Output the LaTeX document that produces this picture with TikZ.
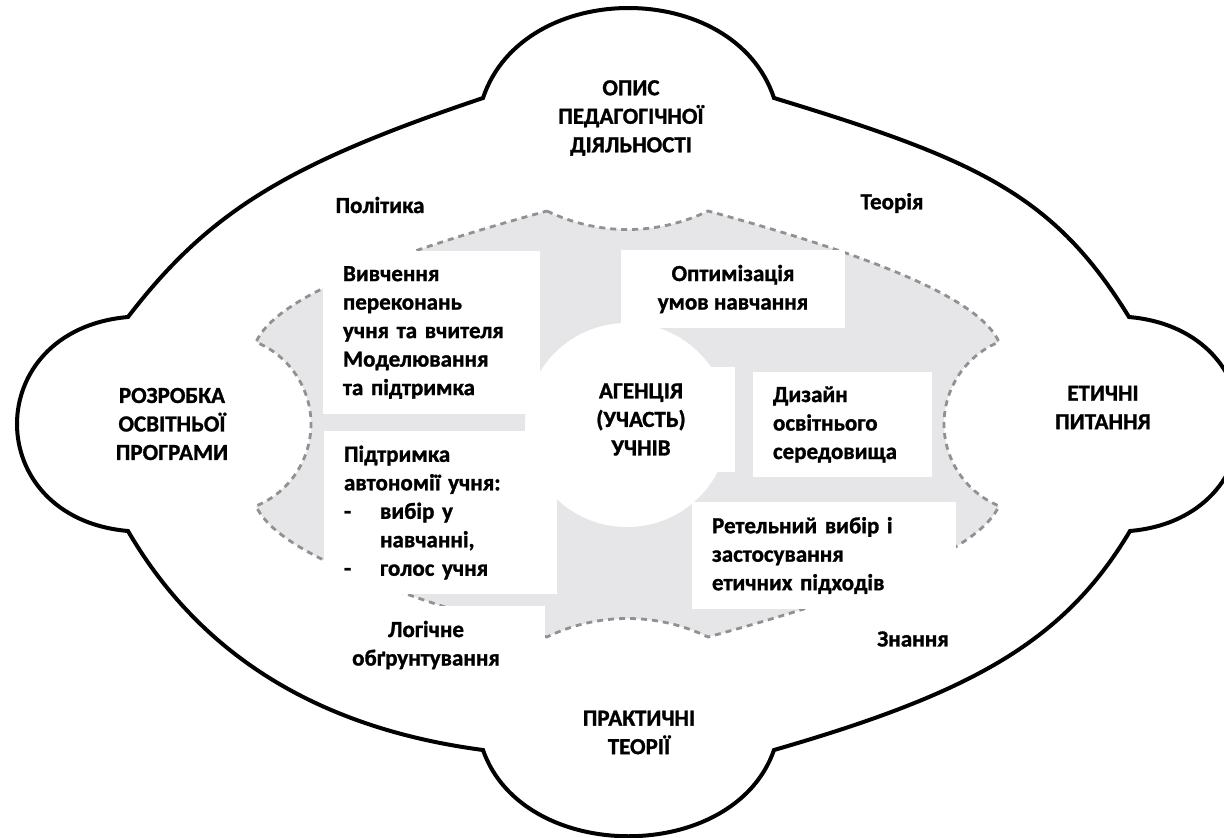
\documentclass[tikz,border=0pt]{standalone}
\usepackage{fontspec}
\setmainfont{Carlito}[BoldFeatures={FakeBold=1.2}]
\definecolor{shade}{RGB}{230,230,232}
\definecolor{dashgray}{RGB}{145,145,145}
\begin{document}
\begin{tikzpicture}[x=1pt,y=-1pt,
  txt/.style={font=\fontsize{23}{28.5}\selectfont\bfseries, align=center, inner sep=0pt},
  wbox/.style={txt, fill=white},
  lbox/.style={wbox, align=left, inner xsep=20pt, inner ysep=0pt},
  cloudline/.style={line width=4pt, draw=black, fill=white},
  innerzone/.style={fill=shade, draw=dashgray, line width=2.8pt, dash pattern=on 6pt off 5pt},
  hub/.style={circle, fill=white, minimum size=204pt, inner sep=0pt}
]
\useasboundingbox (0,0) rectangle (1224,838);
\clip (0,0) rectangle (1224,838);
\fill[white] (0,0) rectangle (1224,838);

% outer cloud
\draw[cloudline] (128,317) .. controls (210,210) and (290,163) .. (483,98)
  .. controls (523,-22) and (734,-22) .. (774,98)
  .. controls (978,160) and (1054,195) .. (1129,317)
  .. controls (1277,330) and (1277,518) .. (1130,531)
  .. controls (1065,640) and (975,692) .. (774,750)
  .. controls (734,865) and (523,865) .. (483,750)
  .. controls (318.8,728.3) and (200.5,655.4) .. (128,531)
  .. controls (-20,518) and (-20,330) .. (128,317) -- cycle;

% inner dashed zone
\path[innerzone] (547,211)
  arc[start angle=115.9, end angle=64.1, radius=184.4]
  .. controls (880,258) and (980,300) .. (999,342)
  arc[start angle=247.7, end angle=112.3, radius=88.6]
  .. controls (980,548) and (880,590) .. (708,637)
  arc[start angle=-64.1, end angle=-115.9, radius=184.4]
  .. controls (375,590) and (275,548) .. (256,506)
  arc[start angle=67.7, end angle=-67.7, radius=88.6]
  .. controls (275,300) and (375,258) .. (547,211) -- cycle;

% centre circle
\node[hub] (hub) at (627,425) {};

% boxes
\node[wbox, minimum width=188pt, minimum height=105pt] (agency) at (641,419.5) {АГЕНЦІЯ\\(УЧАСТЬ)\\УЧНІВ};
\node[wbox, minimum width=224pt, minimum height=78pt] (optim) at (733,289) {Оптимізація\\умов навчання};
\node[lbox, text width=177pt, minimum height=163pt] (beliefs) at (431.5,332.5) {Вивчення\\переконань\\учня та вчителя\\Моделювання\\та підтримка};
\node[lbox, text width=193pt, minimum height=163pt] (autonomy) at (440.5,512.5) {Підтримка\\автономії учня:\\\makebox[36pt][l]{-}вибір у\\\hspace*{36pt}навчанні,\\\makebox[36pt][l]{-}голос учня};
\node[lbox, text width=139pt, minimum height=105pt] (design) at (842.5,424.5) {Дизайн\\освітнього\\середовища};
\node[lbox, text width=224pt, minimum height=107pt] (ethicsel) at (824,555.5) {Ретельний вибір і\\застосування\\етичних підходів};
\node[wbox, minimum width=238pt, minimum height=78pt] (rationale) at (426,645) {Логічне\\обґрунтування};

% outer labels
\node[txt] (opys) at (631,118) {ОПИС\\ПЕДАГОГІЧНОЇ\\ДІЯЛЬНОСТІ};
\node[txt] (policy) at (380,205) {Політика};
\node[txt] (theory) at (892,203) {Теорія};
\node[txt] (curric) at (172,424) {РОЗРОБКА\\ОСВІТНЬОЇ\\ПРОГРАМИ};
\node[txt] (ethics) at (1103,407.5) {ЕТИЧНІ\\ПИТАННЯ};
\node[txt] (practical) at (639,732.5) {ПРАКТИЧНІ\\ТЕОРІЇ};
\node[txt] (knowledge) at (913,639) {Знання};
\end{tikzpicture}
\end{document}
